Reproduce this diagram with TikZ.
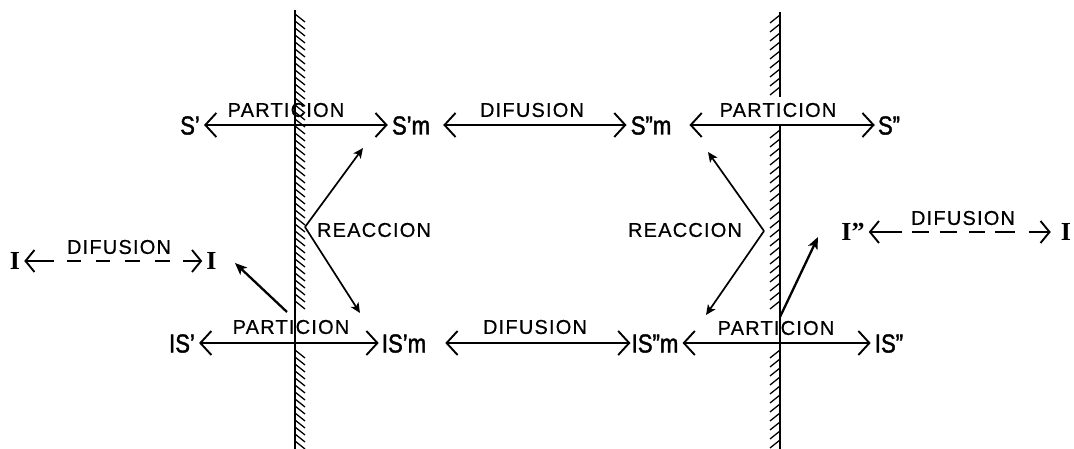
\documentclass[tikz,border=0pt]{standalone}
\usepackage{fontspec}
\setmainfont{Liberation Sans}
\newfontfamily\labfont[LetterSpace=6,FakeBold=0.6]{Liberation Sans}
\newfontfamily\symfont[FakeStretch=0.85,FakeBold=1.6]{Liberation Sans}
\newfontfamily\ifontfam{Liberation Serif}
\usetikzlibrary{arrows.meta}
\tikzset{
  bigbarb/.tip={Straight Barb[length=11pt,width=24pt]},
  smallbarb/.tip={Straight Barb[length=9pt,width=22pt]},
  rtip/.tip={Stealth[length=10pt,width=9pt,inset=2.5pt]},
  ptip/.tip={Stealth[length=12pt,width=10pt,inset=3pt]},
  lab/.style={font=\labfont\fontsize{20}{24}\selectfont, inner sep=0pt},
  sym/.style={font=\symfont\fontsize{26}{30}\selectfont, inner xsep=4pt, inner ysep=0pt, text height=19pt, text depth=0pt},
  isym/.style={font=\ifontfam\bfseries\fontsize{26}{30}\selectfont, inner xsep=4pt, inner ysep=0pt, text height=17pt, text depth=0pt},
  wall/.style={line width=2.6pt},
  hatch/.style={line width=1.3pt},
  dbl/.style={line width=1.9pt, bigbarb-bigbarb},
  dsh/.style={line width=1.9pt, smallbarb-smallbarb},
  rx/.style={line width=1.7pt, -rtip},
  px/.style={line width=2.3pt, -ptip},
}
\begin{document}
\begin{tikzpicture}[x=1pt,y=-1pt]
\useasboundingbox (0,0) rectangle (1074,449);

% ---- walls ----
\draw[wall] (295,10) -- (295,449);
\foreach \y in {14,21,...,305} \draw[hatch] (295,\y) -- (305,\y+8);
\foreach \y in {350,357,...,442} \draw[hatch] (295,\y) -- (305,\y+8);
\draw[wall] (780,12) -- (780,97);
\draw[wall] (780,125) -- (780,449);
\foreach \y in {15,24,...,88} \draw[hatch] (780,\y) -- (770,\y+8);
\foreach \y in {130,139,...,306} \draw[hatch] (780,\y) -- (770,\y+8);
\foreach \y in {350,359,...,440} \draw[hatch] (780,\y) -- (770,\y+8);

% ---- top row ----
\node[sym] (Sp)   at (190,125) {S’};
\node[sym] (Spm)  at (411,125) {S’m};
\node[sym] (Sppm) at (651,125) {S”m};
\node[sym] (Spp)  at (889,125) {S”};
\draw[dbl] (Sp) -- (Spm);
\draw[dbl, shorten <=9pt] (Spm) -- (Sppm);
\draw[dbl, shorten <=14pt, shorten >=-1pt] (Sppm) -- (Spp);
\node[lab] (t1) at (286,110) {PARTICION};
\node[lab] (t2) at (532,110) {DIFUSION};
\node[lab] (t3) at (778,110) {PARTICION};

% ---- bottom row ----
\node[sym] (ISp)   at (182,343) {IS’};
\node[sym] (ISpm)  at (404,343) {IS’m};
\node[sym] (ISppm) at (655,343) {IS”m};
\node[sym] (ISpp)  at (889,343) {IS”};
\draw[dbl, shorten <=0pt, shorten >=-1pt] (ISp) -- (ISpm);
\draw[dbl, shorten <=15pt, shorten >=-3pt] (ISpm) -- (ISppm);
\draw[dbl, shorten <=0pt, shorten >=0pt] (ISppm) -- (ISpp);
\node[lab] (b1) at (291,327) {PARTICION};
\node[lab] (b2) at (535,327) {DIFUSION};
\node[lab] (b3) at (776,328) {PARTICION};

% ---- left diffusion of I ----
\node[isym] (IL) at (15,261) {I};
\node[isym] (IR) at (211.5,261) {I};
\draw[dsh, dash pattern=on 28pt off 13pt on 14pt off 15pt on 14pt off 15pt on 15pt off 15pt on 15pt off 13pt on 80pt] (IL) -- (IR);
\node[lab] (dl) at (119,247) {DIFUSION};

% ---- right diffusion of I ----
\node[isym] (Ipp) at (853,232) {I”};
\node[isym] (Ir)  at (1066,232) {I};
\draw[dsh, shorten >=6pt, dash pattern=on 31pt off 10pt on 17pt off 11pt on 17pt off 12pt on 16pt off 10pt on 20pt off 14pt on 80pt] (Ipp) -- (Ir);
\node[lab] (dr) at (963,218) {DIFUSION};

% ---- reactions ----
\node[lab] (re1) at (374,230) {REACCION};
\node[lab] (re2) at (685,230) {REACCION};
\coordinate (v1) at (305,227);
\coordinate (r1a) at (363,148);
\coordinate (r1b) at (360,313);
\draw[rx] (v1) -- (r1a);
\draw[rx] (v1) -- (r1b);
\coordinate (v2) at (764,231);
\coordinate (r2a) at (708,152);
\coordinate (r2b) at (706,315);
\draw[rx] (v2) -- (r2a);
\draw[rx] (v2) -- (r2b);

% ---- partition of I through the walls ----
\coordinate (p1) at (287,312);
\coordinate (q1) at (235,263);
\draw[px] (p1) -- (q1);
\coordinate (p2) at (780,317);
\coordinate (q2) at (818,237);
\draw[px] (p2) -- (q2);
\end{tikzpicture}
\end{document}
